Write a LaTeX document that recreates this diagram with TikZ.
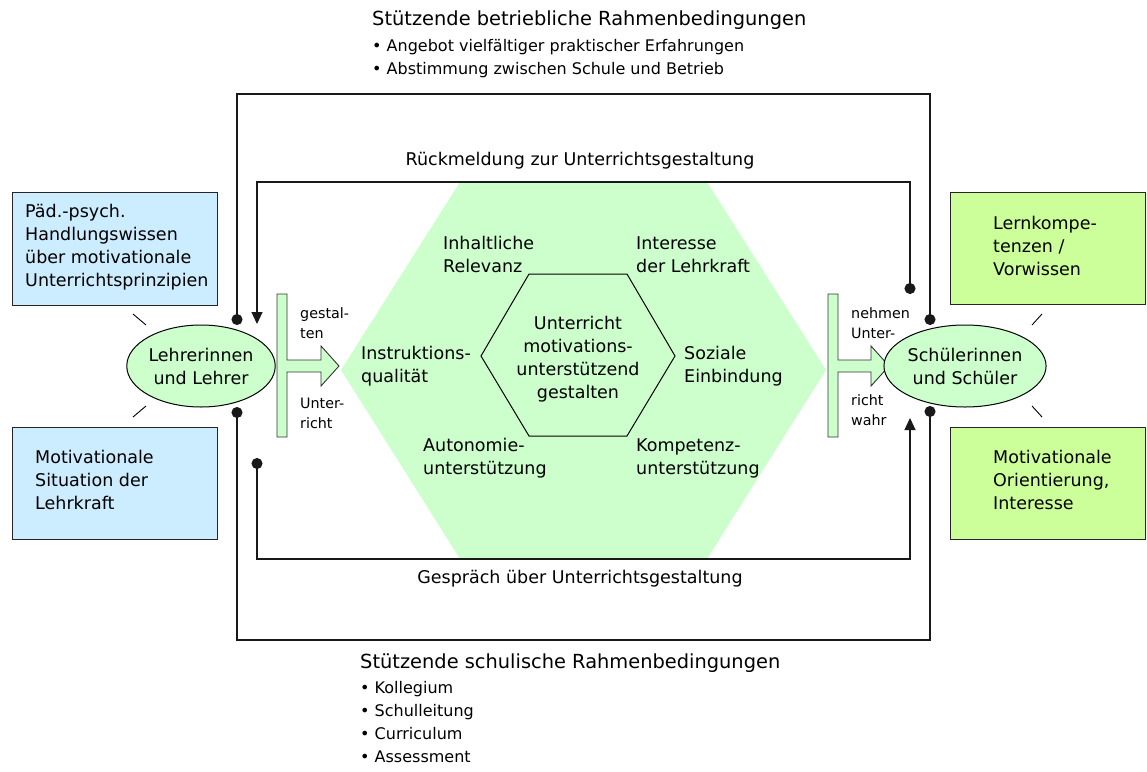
\documentclass[tikz,border=0pt]{standalone}
\usepackage{fontspec}
\setmainfont{DejaVu Sans}
\usetikzlibrary{shapes.geometric,arrows.meta}
\definecolor{lgreen}{HTML}{CCFFCC}
\definecolor{lblue}{HTML}{CCECFF}
\definecolor{ygreen}{HTML}{CCFF99}
\newcommand\mainsz{\fontsize{17.5}{23}\selectfont}
\newcommand\smallsz{\fontsize{14.3}{20}\selectfont}
\newcommand\headsz{\fontsize{19.4}{24}\selectfont}
\newcommand\bulsz{\fontsize{16}{23}\selectfont}
\begin{document}
\begin{tikzpicture}[x=1pt,y=-1pt,
  every node/.style={inner sep=0pt},
  lbl/.style={font=\mainsz, align=left, anchor=west},
  lblc/.style={font=\mainsz, align=center},
  small/.style={font=\smallsz, align=left, anchor=west},
  conn/.style={line width=1.2pt, draw=black!90},
  dotdot/.style={conn, {Circle[length=11pt]}-{Circle[length=11pt]}},
  dotarr/.style={conn, {Circle[length=11pt]}-{Triangle[length=12pt,width=11pt]}},
  infobox/.style={draw=black!85, line width=1pt, anchor=north west},
  person/.style={ellipse, draw=black, line width=1pt, fill=lgreen, minimum width=132pt, minimum height=82pt, font=\mainsz, align=center},
  blockarrow/.style={draw=black!80, line width=0.9pt, fill=lgreen},
  tick/.style={line width=0.9pt}
]
\useasboundingbox (0,0) rectangle (1147,771);

% big hexagon background
\fill[lgreen] (460,182) -- (707,182) -- (826,370) -- (707,559) -- (460,559) -- (341,370) -- cycle;

% inner hexagon
\draw[line width=1pt] (529,274) -- (627,274) -- (675,356) -- (627,436) -- (529,436) -- (481,356) -- cycle;
\node[lblc] (core) at (578,359.5) {\fontsize{17.5}{24}\selectfont Unterricht\\motivations-\\unterstützend\\gestalten};

% hexagon labels
\node[lbl] (relevanz) at (443,254.5) {Inhaltliche\\Relevanz};
\node[lbl] (interesse) at (636,254.5) {Interesse\\der Lehrkraft};
\node[lbl] (instr) at (361,366.5) {Instruktions-\\qualität};
\node[lbl] (sozial) at (684,366.5) {Soziale\\Einbindung};
\node[lbl] (autonomie) at (423,458.5) {Autonomie-\\unterstützung};
\node[lbl] (kompetenz) at (636,458.5) {Kompetenz-\\unterstützung};

% block arrows
\draw[blockarrow] (277,294) -- (287,294) -- (287,360) -- (321,360) -- (321,346) -- (339,366) -- (321,386) -- (321,372) -- (287,372) -- (287,437) -- (277,437) -- cycle;
\draw[blockarrow] (828,294) -- (838,294) -- (838,360) -- (871,360) -- (871,346) -- (889,366) -- (871,386) -- (871,372) -- (838,372) -- (838,437) -- (828,437) -- cycle;
\node[small] (gest) at (300,323) {gestal-\\ten};
\node[small] (unt) at (300,413) {Unter-\\richt};
\node[small] (nehm) at (851,323) {nehmen\\Unter-};
\node[small] (wahr) at (851,410) {richt\\wahr};

% persons
\node[person] (L) at (201,366) {Lehrerinnen\\und Lehrer};
\node[person] (S) at (965,366) {Schülerinnen\\und Schüler};

% info boxes
\node[infobox, fill=lblue, minimum width=205pt, minimum height=113pt] (b1) at (12,192) {};
\node[lbl] (t1) at (25,247) {Päd.-psych.\\Handlungswissen\\über motivationale\\Unterrichtsprinzipien};
\node[infobox, fill=lblue, minimum width=205pt, minimum height=112pt] (b2) at (12,427) {};
\node[lbl] (t2) at (35,480) {Motivationale\\Situation der\\Lehrkraft};
\node[infobox, fill=ygreen, minimum width=195pt, minimum height=112pt] (b3) at (950,192) {};
\node[lbl] (t3) at (993,246) {Lernkompe-\\tenzen /\\Vorwissen};
\node[infobox, fill=ygreen, minimum width=195pt, minimum height=112pt] (b4) at (950,427) {};
\node[lbl] (t4) at (993,480) {Motivationale\\Orientierung,\\Interesse};

% ticks between boxes and persons
\draw[tick] (133,314) -- (146,325);
\draw[tick] (133,417) -- (146,406);
\draw[tick] (1032,325) -- (1042,314);
\draw[tick] (1032,406) -- (1042,417);

% coordinates
\coordinate (Lt) at (237,325);
\coordinate (Lb) at (237,407);
\coordinate (St) at (930,325);
\coordinate (Sb) at (930,406);
\coordinate (TL) at (237,94);
\coordinate (TR) at (930,94);
\coordinate (BL) at (237,640);
\coordinate (BR) at (930,640);
\coordinate (fS) at (910,294);
\coordinate (fTR) at (910,182);
\coordinate (fTL) at (257,182);
\coordinate (fL) at (257,324);
\coordinate (gL) at (257,458);
\coordinate (gBL) at (257,559);
\coordinate (gBR) at (910,559);
\coordinate (gS) at (910,418);

% outer frame
\draw[dotdot] (Lt) -- (TL) -- (TR) -- (St);
\draw[dotdot] (Lb) -- (BL) -- (BR) -- (Sb);

% feedback loops
\draw[dotarr] (fS) -- (fTR) -- (fTL) -- (fL);
\draw[dotarr] (gL) -- (gBL) -- (gBR) -- (gS);
\node[lblc] (rueck) at (580,161) {Rückmeldung zur Unterrichtsgestaltung};
\node[lblc] (gespr) at (580,579) {Gespräch über Unterrichtsgestaltung};

% frame texts
\node[font=\headsz, anchor=west] (toptitle) at (372,20) {Stützende betriebliche Rahmenbedingungen};
\node[font=\bulsz, align=left, anchor=west] (topbul) at (372,58.5) {• Angebot vielfältiger praktischer Erfahrungen\\• Abstimmung zwischen Schule und Betrieb};
\node[font=\headsz, anchor=west] (bottitle) at (360,663) {Stützende schulische Rahmenbedingungen};
\node[font=\bulsz, align=left, anchor=west] (botbul) at (360,722) {• Kollegium\\• Schulleitung\\• Curriculum\\• Assessment};
\end{tikzpicture}
\end{document}
